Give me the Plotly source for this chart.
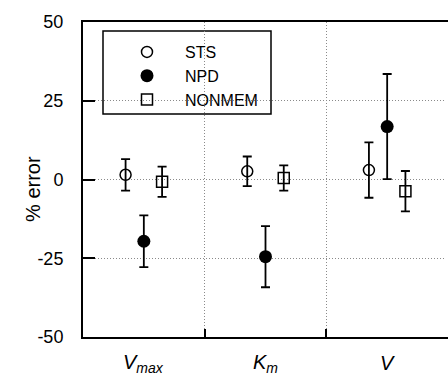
import plotly.graph_objects as go

categories = ["V<sub>max</sub>", "K<sub>m</sub>", "V"]
series_names = ["STS", "NPD", "NONMEM"]
sts_vals = [1.5, 2.6, 3.0]
sts_err = [5.0, 4.7, 8.8]
npd_vals = [-19.6, -24.5, 16.8]
npd_err = [8.2, 9.7, 16.7]
nonmem_vals = [-0.7, 0.5, -3.7]
nonmem_err = [4.8, 4.0, 6.4]
y_ticks = [50, 25, 0, -25, -50]
y_ticktext = ["50", "25", "0", "-25", "-50"]

offsets = [-0.15, 0.0, 0.15]
xs = [1, 2, 3]
FONT = "Liberation Sans, Arial, Helvetica, sans-serif"

styles = [
    dict(symbol="circle-open", size=11, color="black", line=dict(width=1.5, color="black")),
    dict(symbol="circle", size=13, color="black", line=dict(width=0, color="black")),
    dict(symbol="square-open", size=11, color="black", line=dict(width=1.5, color="black")),
]
vals = [sts_vals, npd_vals, nonmem_vals]
errs = [sts_err, npd_err, nonmem_err]

fig = go.Figure()
for i, name in enumerate(series_names):
    fig.add_trace(go.Scatter(
        x=[x + offsets[i] for x in xs], y=vals[i], mode="markers", name=name,
        marker=styles[i],
        error_y=dict(type="data", array=errs[i], visible=True, color="black", thickness=1.8, width=4.5),
        cliponaxis=False,
    ))

W, H = 448, 375
L, R, T, B = 83, 0, 22, 38
pw = W - L - R
ph = H - T - B

def px_x(p):
    return (p - L) / pw

def px_y(p):
    return (T + ph - p) / ph

fig.add_shape(type="rect", xref="paper", yref="paper",
              x0=px_x(103), x1=px_x(271), y0=px_y(114), y1=px_y(31),
              line=dict(color="black", width=1.5), fillcolor="white", layer="below")
# keep the right edge open (no right frame line)
fig.add_shape(type="rect", xref="paper", yref="paper",
              x0=px_x(446), x1=px_x(452), y0=px_y(335), y1=px_y(24),
              line=dict(width=0), fillcolor="white", layer="above")

for i, c in enumerate(categories):
    fig.add_annotation(x=xs[i], y=0, xref="x", yref="paper", text="<i>" + c + "</i>",
                       showarrow=False, yanchor="middle", yshift=-26,
                       font=dict(family=FONT, size=20, color="black"))

fig.add_annotation(x=0, y=-3, xref="paper", yref="y", text="% error", textangle=-90,
                   showarrow=False, xshift=-63, font=dict(family=FONT, size=20, color="black"))

GRID = "#8a8a8a"
fig.update_layout(
    width=W, height=H,
    margin=dict(l=L, r=R, t=T, b=B, pad=0),
    paper_bgcolor="white", plot_bgcolor="white",
    font=dict(family=FONT, size=16, color="black"),
    showlegend=True,
    legend=dict(x=px_x(109), y=px_y(35), xanchor="left", yanchor="top",
                bgcolor="rgba(0,0,0,0)", borderwidth=0, itemwidth=66,
                font=dict(family=FONT, size=16, color="black")),
    xaxis=dict(range=[0.5, 3.5], tickvals=[1.5, 2.5], ticktext=["", ""],
               showgrid=True, gridcolor=GRID, griddash="1px,2px", gridwidth=1,
               zeroline=False, showline=True, linecolor="black", linewidth=2, mirror=True,
               ticks="inside", ticklen=8, tickcolor="black", tickwidth=2),
    yaxis=dict(range=[-50, 50], tickvals=y_ticks, ticktext=y_ticktext,
               showgrid=True, gridcolor=GRID, griddash="1px,2px", gridwidth=1,
               zeroline=False, showline=True, linecolor="black", linewidth=2, mirror=False,
               ticks="inside", ticklen=12, tickcolor="black", tickwidth=1.5,
               ticklabelstandoff=14, tickfont=dict(family=FONT, size=18, color="black")),
)

fig.write_html("out.html")
